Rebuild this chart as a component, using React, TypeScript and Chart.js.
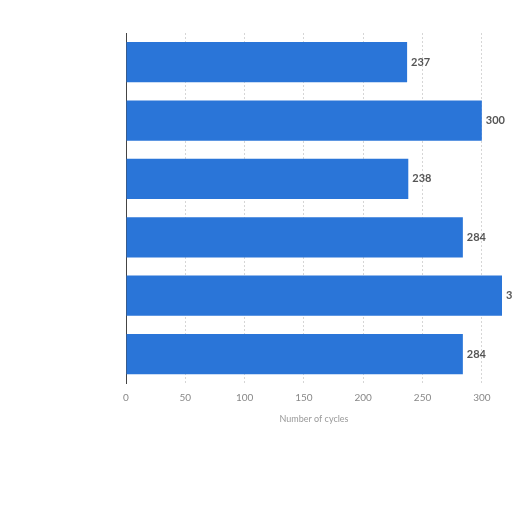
import React, { useEffect, useRef } from "react";
import Chart from "chart.js/auto";
import type { ChartConfiguration, Plugin } from "chart.js";

const CATEGORIES = ["Item 1", "Item 2", "Item 3", "Item 4", "Item 5", "Item 6"];
const CYCLES = [237, 300, 238, 284, 317, 284];
const AXIS_MAX = 317;
const X_TICKS = [0, 50, 100, 150, 200, 250, 300];

const BAR_COLOR = "#2a75d8";
const FONT = "Lato, 'Open Sans', sans-serif";

const valueLabels: Plugin = {
    id: "valueLabels",
    afterDatasetsDraw(chart) {
        const ctx = chart.ctx;
        const meta = chart.getDatasetMeta(0);
        ctx.save();
        ctx.font = `bold 11px ${FONT}`;
        ctx.fillStyle = "#555555";
        ctx.textAlign = "left";
        ctx.textBaseline = "middle";
        meta.data.forEach((bar: any, index) => {
            ctx.fillText(String(CYCLES[index]), bar.x + 4, bar.y);
        });
        ctx.restore();
    },
};

export default function App() {
    const canvasRef = useRef<HTMLCanvasElement | null>(null);

    useEffect(() => {
        const canvas = canvasRef.current;
        if (!canvas) return;

        const config: ChartConfiguration = {
            type: "bar",
            data: {
                labels: CATEGORIES,
                datasets: [
                    {
                        label: "Number of cycles",
                        data: CYCLES,
                        backgroundColor: BAR_COLOR,
                        borderWidth: 0,
                        categoryPercentage: 0.69,
                        barPercentage: 1,
                    },
                ],
            },
            options: {
                indexAxis: "y",
                responsive: false,
                animation: false,
                layout: {
                    padding: { top: 33, right: 10, bottom: 87, left: 118 },
                },
                plugins: {
                    legend: { display: false },
                    tooltip: { enabled: false },
                },
                scales: {
                    x: {
                        min: 0,
                        max: AXIS_MAX,
                        afterBuildTicks: (axis) => {
                            axis.ticks = X_TICKS.map((value) => ({ value }));
                        },
                        grid: {
                            color: "#d6d6d6",
                            drawTicks: false,
                        },
                        border: { display: false, dash: [2, 2] },
                        ticks: {
                            color: "#888888",
                            padding: 9,
                            font: { family: FONT, size: 10 },
                        },
                        title: {
                            display: true,
                            text: "Number of cycles",
                            color: "#999999",
                            padding: { top: 0, bottom: 1 },
                            font: { family: FONT, size: 9 },
                        },
                    },
                    y: {
                        grid: { display: false },
                        border: { display: true, color: "#444444", width: 1 },
                        ticks: { display: false },
                    },
                },
            },
            plugins: [valueLabels],
        };

        const chart = new Chart(canvas, config);
        return () => {
            chart.destroy();
        };
    }, []);

    return (
        <div style={{ position: "absolute", left: 0, top: 0, width: 512, height: 512, background: "#ffffff" }}>
            <canvas ref={canvasRef} width={512} height={512} style={{ width: 512, height: 512 }} />
        </div>
    );
}
